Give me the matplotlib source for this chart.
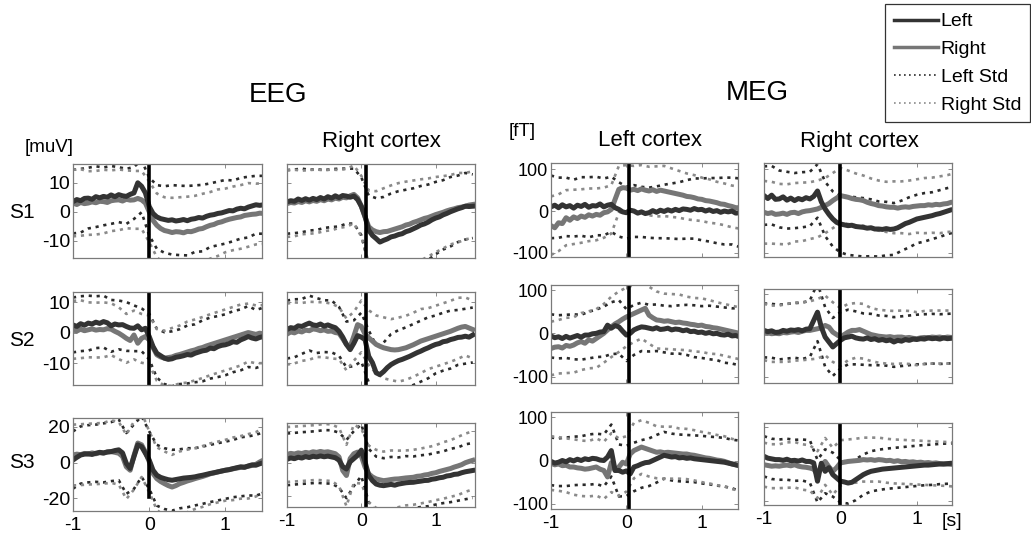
import numpy as np
import matplotlib
matplotlib.use("Agg")
import matplotlib.pyplot as plt
from matplotlib.lines import Line2D

plt.rcParams['font.family'] = ['Liberation Sans', 'DejaVu Sans']

# time axis of the averaged traces (s), std bands are sampled every second point
t = np.linspace(-1.0, 1.5, 51)
t_std = t[::2]

# ---------------- EEG, left cortex ----------------
eeg_lc_s1_left = [3.5, 4.2, 3.8, 4.6, 4.7, 4.3, 5.2, 4.8, 5.3, 5.0, 5.8, 5.2, 5.9, 5.5, 5.3, 6.0, 6.5,
                  10.0, 8.8, 6.5, 1.8, -0.6, -1.8, -2.4, -2.7, -3.0, -2.8, -3.2, -3.0, -2.7, -3.1, -2.6,
                  -2.4, -2.0, -2.2, -1.6, -1.2, -1.0, -0.6, -0.4, 0.0, 0.4, 0.3, 0.9, 1.2, 1.0, 1.6, 2.0,
                  2.4, 2.2, 2.4]
eeg_lc_s1_right = [3.0, 2.5, 3.2, 2.8, 3.0, 3.4, 3.1, 3.6, 3.5, 3.2, 3.8, 4.0, 4.1, 3.7, 4.3, 4.0, 4.1,
                   4.6, 4.1, 3.0, 0.0, -3.0, -4.7, -5.8, -6.5, -6.8, -7.2, -6.9, -7.0, -7.3, -6.8, -6.9,
                   -6.5, -6.0, -5.8, -5.2, -4.7, -4.4, -3.8, -3.5, -3.0, -2.6, -2.3, -2.0, -1.8, -1.3,
                   -1.1, -0.9, -0.8, -0.5, -0.6]
eeg_lc_s1_left_std = [11, 11, 10.5, 10.5, 10, 10, 9.5, 9.5, 9, 9, 10, 11, 11.5, 12, 12, 12, 11.5, 11.5,
                      11, 11, 11, 10.5, 10.5, 10.5, 10, 10]
eeg_lc_s1_right_std = [11.5, 11.5, 11, 11, 11, 10.5, 10.5, 10, 10, 10, 10.5, 11, 11.5, 12, 12, 12, 12,
                       12, 11.5, 11.5, 11, 11, 11, 11, 10.5, 10.5]

eeg_lc_s2_left = [2.5, 2.0, 2.9, 2.4, 3.1, 2.8, 3.4, 3.0, 3.6, 3.2, 2.2, 2.8, 2.5, 2.6, 2.0, 1.5, 1.4,
                  2.2, 0.9, 1.4, -1.3, -4.6, -6.8, -7.6, -8.4, -8.8, -8.6, -8.1, -7.9, -7.6, -7.2, -7.4,
                  -6.8, -6.4, -6.0, -5.8, -5.1, -5.3, -4.6, -4.2, -4.0, -3.6, -3.0, -3.2, -2.4, -1.9,
                  -1.3, -1.8, -2.1, -1.6, -1.3]
eeg_lc_s2_right = [0.9, 0.5, 1.1, 0.6, 0.9, 1.2, 0.8, 1.0, 0.9, 1.3, 1.1, 0.4, -0.2, -1.0, -1.9, -2.6,
                   -0.8, -3.5, -1.9, -1.3, -2.4, -4.9, -7.3, -8.0, -8.4, -8.2, -8.0, -7.5, -7.2, -6.8,
                   -6.4, -6.0, -5.7, -5.2, -4.9, -4.4, -4.0, -3.6, -3.2, -2.8, -2.4, -2.0, -1.6, -1.2,
                   -0.8, -0.4, 0.0, -0.3, -0.6, -0.2, -0.5]
eeg_lc_s2_left_std = [9, 9, 9, 8.5, 8.5, 8.5, 8, 8, 7.5, 7, 7.5, 8, 8.5, 9, 9, 9.5, 9.5, 10, 10, 10, 10,
                      10, 10, 10, 9.5, 9.5]
eeg_lc_s2_right_std = [9.5, 9.5, 9, 9, 9, 8.5, 8.5, 8, 8, 8, 8, 8.5, 9, 9.5, 9.5, 10, 10, 10, 10, 10, 10,
                       10, 10, 9.5, 9.5, 9.5]

eeg_lc_s3_left = [1.5, 3.0, 4.3, 4.8, 5.0, 4.6, 5.3, 5.8, 5.5, 6.0, 6.2, 6.8, 7.2, 5.5, -0.4, -3.2, 3.4,
                  10.0, 9.0, 5.3, 1.5, -4.2, -7.0, -8.2, -8.9, -9.5, -9.8, -9.4, -9.0, -8.6, -8.4, -8.2,
                  -7.9, -7.4, -7.0, -6.5, -6.0, -5.6, -5.1, -4.7, -4.2, -3.9, -3.3, -2.8, -2.3, -2.6,
                  -1.8, -1.2, -1.4, -0.6, 0.0]
eeg_lc_s3_right = [4.3, 4.8, 4.5, 5.2, 4.8, 5.5, 5.0, 5.6, 5.3, 6.0, 6.2, 5.8, 5.3, 3.5, -2.3, -4.2, 4.0,
                   11.0, 10.0, 6.0, 0.6, -6.0, -8.9, -10.5, -11.7, -12.8, -13.6, -12.8, -11.7, -11.0,
                   -10.2, -9.6, -8.9, -8.3, -7.7, -7.0, -6.2, -5.7, -5.2, -4.6, -4.2, -3.8, -3.4, -3.0,
                   -2.6, -2.4, -2.0, -1.5, -0.9, 0.4, 1.5]
eeg_lc_s3_left_std = [16, 16, 16, 16, 16.5, 16.5, 17, 17, 18, 17, 16, 17, 17, 17, 16.5, 16.5, 16, 16,
                      16, 16, 16, 16, 16.5, 16.5, 17, 17]
eeg_lc_s3_right_std = [17, 17, 17, 17, 17, 17.5, 17.5, 18, 19, 18, 17, 17.5, 18, 18, 18, 17.5, 17, 17,
                       17, 17, 17, 17.5, 17.5, 18, 18, 18]

# ---------------- EEG, right cortex ----------------
eeg_rc_s1_left = [3.4, 3.8, 3.6, 4.4, 3.9, 4.5, 4.0, 4.6, 4.2, 4.9, 4.4, 5.2, 4.7, 5.5, 4.9, 5.6, 5.4,
                  5.0, 5.4, 4.2, 1.9, -1.6, -6.4, -8.2, -9.3, -10.5, -9.9, -9.4, -8.7, -8.4, -7.9, -7.6,
                  -6.9, -6.5, -5.9, -5.3, -4.6, -4.2, -3.6, -2.8, -2.2, -1.8, -1.1, -0.6, 0.0, 0.5, 1.0,
                  1.4, 1.9, 1.8, 1.9]
eeg_rc_s1_right = [2.8, 3.2, 3.0, 3.5, 3.2, 3.8, 3.4, 3.9, 3.6, 4.2, 3.8, 4.4, 4.1, 4.7, 4.4, 5.0, 4.8,
                   5.5, 6.0, 4.8, 1.9, -1.8, -5.2, -6.3, -6.9, -7.2, -6.9, -6.8, -6.4, -6.0, -5.6, -5.2,
                   -4.6, -4.3, -3.7, -3.3, -2.8, -2.3, -2.0, -1.5, -1.0, -0.6, -0.2, 0.3, 0.7, 1.0, 1.4,
                   1.6, 1.9, 2.3, 2.5]
eeg_rc_s1_left_std = [11, 11, 11, 10.5, 10.5, 10, 10, 10, 9.5, 9.5, 10, 12, 14, 15, 15, 15, 14.5, 14,
                      13.5, 13, 12.5, 12, 12, 11.5, 11.5, 11]
eeg_rc_s1_right_std = [11.5, 11.5, 11, 11, 11, 10.5, 10.5, 10, 10, 10, 10.5, 12.5, 14, 15, 15.5, 15.5,
                       15, 14.5, 14, 13.5, 13, 12.5, 12, 12, 11.5, 11.5]

eeg_rc_s2_left = [1.0, 1.6, 1.4, 2.2, 2.0, 2.6, 3.1, 2.5, 2.3, 2.8, 2.1, 2.5, 2.0, 1.6, 0.4, -1.5, -3.9,
                  -5.6, -3.5, -1.0, -1.5, -2.3, -7.8, -9.9, -13.2, -13.8, -12.8, -11.5, -10.5, -9.8,
                  -9.2, -8.8, -8.3, -7.8, -7.2, -6.6, -6.1, -5.5, -5.0, -4.4, -3.9, -3.6, -3.0, -2.8,
                  -2.3, -2.0, -1.6, -1.5, -1.2, -1.5, -0.8]
eeg_rc_s2_right = [-0.5, 0.2, -0.1, 0.5, 0.2, 0.8, 0.6, 1.2, 1.0, 0.6, 0.9, 0.4, 0.5, 0.0, -0.2, -2.0,
                   -3.9, -4.6, -1.2, 2.6, 2.0, -0.5, -1.7, -2.8, -3.9, -4.5, -5.0, -5.3, -5.6, -5.7, -5.6,
                   -5.3, -5.0, -4.5, -4.0, -3.4, -2.8, -2.4, -2.0, -1.6, -1.2, -0.8, -0.4, 0.0, 0.4, 0.9,
                   1.4, 1.8, 2.0, 1.5, 1.0]
eeg_rc_s2_left_std = [9.5, 9.5, 9, 9, 9, 8.5, 8.5, 8, 7.5, 7.5, 8, 8.5, 9, 9.5, 10, 10, 10, 10, 10, 10,
                      9.5, 9.5, 9.5, 9, 9, 9]
eeg_rc_s2_right_std = [10, 10, 9.5, 9.5, 9, 9, 9, 8.5, 8.5, 8, 8.5, 9, 9.5, 10, 10, 10.5, 10.5, 10.5,
                       10.5, 10, 10, 10, 10, 10, 9.5, 9.5]

eeg_rc_s3_left = [2.5, 3.4, 2.9, 3.8, 3.3, 4.2, 3.6, 4.4, 4.0, 4.6, 4.1, 4.5, 4.0, 3.5, 2.0, -2.0, -3.5,
                  1.0, 3.0, 5.0, 8.2, 1.0, -7.5, -10.7, -12.8, -13.5, -13.8, -13.4, -13.0, -13.5, -12.8,
                  -12.4, -12.0, -11.8, -11.7, -11.3, -11.0, -10.6, -10.5, -9.8, -9.5, -8.9, -8.6, -7.8,
                  -7.5, -6.8, -6.6, -5.8, -5.2, -4.8, -4.4]
eeg_rc_s3_right = [5.5, 6.2, 5.8, 6.5, 6.1, 6.8, 6.4, 7.2, 6.8, 7.4, 6.9, 7.2, 6.6, 6.0, 4.0, -4.4, -7.5,
                   3.0, 6.0, 7.0, 4.5, -2.3, -6.5, -8.4, -9.6, -10.2, -10.7, -10.4, -10.0, -9.7, -9.6,
                   -9.3, -9.0, -8.8, -8.6, -8.0, -7.8, -7.2, -6.9, -6.2, -5.8, -5.0, -4.4, -3.8, -3.2,
                   -2.3, -1.6, -0.8, 0.4, 1.2, 1.9]
eeg_rc_s3_left_std = [16, 16, 16, 16, 16, 16.5, 16.5, 17, 18, 17, 16, 16.5, 17, 17, 17, 16.5, 16.5, 16,
                      16, 16, 16, 16, 16.5, 16.5, 17, 17]
eeg_rc_s3_right_std = [17, 17, 17, 17, 17, 17.5, 17.5, 18, 19, 18, 17, 17.5, 18, 18, 18, 17.5, 17, 17,
                       17, 17, 17, 17.5, 17.5, 18, 18, 18]

# ---------------- MEG, left cortex ----------------
meg_lc_s1_left = [10, 14, 8, 15, 10, 13, 7, 14, 11, 16, 9, 13, 12, 17, 10, 14, 16, 8, 4, -2, -4, 2, 0,
                  -5, -2, -6, -4, 1, -3, 2, -1, 3, 0, 4, 1, 5, 4, 2, 6, 3, 4, 0, 3, -1, 1, -3, 0, -2, 0,
                  -5, -4]
meg_lc_s1_right = [-35, -40, -28, -30, -16, -22, -14, -18, -12, -15, -9, -12, -8, -10, -4, -2, 4, 28,
                   52, 56, 55, 50, 52, 49, 53, 50, 48, 51, 47, 50, 48, 46, 44, 42, 40, 38, 35, 34, 32,
                   29, 28, 25, 24, 22, 20, 17, 16, 13, 11, 8, 8]
meg_lc_s1_left_std = [75, 72, 70, 68, 70, 72, 70, 68, 66, 65, 62, 62, 60, 60, 62, 64, 66, 68, 70, 72,
                      74, 76, 78, 80, 80, 82]
meg_lc_s1_right_std = [70, 68, 66, 65, 64, 63, 62, 60, 58, 56, 55, 56, 57, 58, 60, 60, 58, 56, 55, 54,
                       52, 52, 50, 50, 50, 50]

meg_lc_s2_left = [-6, -10, -8, -12, -7, -11, -8, -5, -9, -4, -4, -1, 0, 3, 4, 19, 12, 18, 15, 5, -4, 0,
                  8, 12, 15, 14, 12, 10, 13, 9, 10, 12, 8, 10, 9, 6, 8, 4, 5, 2, 3, 0, 2, -1, 0, -3,
                  -4, -2, -6, -5, -8]
meg_lc_s2_right = [-35, -32, -31, -34, -28, -30, -27, -22, -19, -23, -15, -18, -12, -6, 0, 8, 15, 22,
                   27, 33, 38, 42, 46, 50, 54, 58, 42, 36, 31, 30, 28, 29, 27, 25, 26, 24, 23, 21, 20,
                   18, 19, 16, 15, 13, 12, 10, 8, 6, 4, 2, 0]
meg_lc_s2_left_std = [50, 50, 50, 52, 52, 54, 55, 58, 60, 62, 60, 58, 56, 54, 54, 54, 55, 56, 58, 60,
                      60, 62, 62, 64, 64, 66]
meg_lc_s2_right_std = [62, 62, 64, 64, 66, 66, 68, 68, 70, 70, 68, 66, 66, 66, 66, 64, 64, 64, 62, 62,
                       62, 62, 60, 60, 60, 60]

meg_lc_s3_left = [-2, -6, -4, 0, -3, 2, -1, 3, 0, 4, 2, 5, 4, 1, 0, 8, 23, -23, -23, -27, -24, -31,
                  -15, -12, -8, -5, -4, 0, 4, 8, 12, 10, 8, 9, 6, 7, 5, 6, 4, 3, 2, 1, 0, -1, -2, -3,
                  -4, -6, -8, -10, -12]
meg_lc_s3_right = [-6, -10, -8, -12, -11, -15, -15, -17, -18, -20, -19, -17, -15, -20, -23, -38, -5,
                   -23, -15, -4, -8, 15, 23, 27, 31, 28, 25, 22, 19, 20, 18, 19, 18, 17, 16, 15, 15,
                   13, 12, 10, 8, 6, 5, 3, 1, 0, -2, -5, -8, -10, -12]
meg_lc_s3_left_std = [55, 55, 56, 56, 56, 58, 58, 60, 60, 60, 58, 56, 55, 55, 55, 54, 54, 54, 54, 54,
                      55, 55, 56, 56, 56, 58]
meg_lc_s3_right_std = [62, 62, 62, 64, 64, 64, 66, 66, 68, 66, 64, 64, 62, 62, 60, 60, 60, 58, 58, 58,
                       58, 58, 58, 58, 58, 58]

# ---------------- MEG, right cortex ----------------
meg_rc_s1_left = [37, 30, 38, 28, 29, 34, 26, 31, 25, 30, 27, 32, 29, 35, 48, 22, 5, -8, -19, -27, -31,
                  -33, -35, -34, -37, -38, -39, -41, -40, -43, -43, -44, -42, -44, -43, -40, -35, -30,
                  -27, -23, -19, -17, -15, -13, -11, -8, -6, -3, 0, 3, 4]
meg_rc_s1_right = [-3, -6, -4, -8, -7, -5, -8, -4, -3, -6, -2, 0, 1, 3, 5, 9, 13, 18, 25, 31, 37, 35,
                   33, 30, 28, 27, 25, 21, 18, 16, 13, 12, 10, 9, 9, 7, 9, 10, 9, 11, 12, 13, 13, 15,
                   14, 16, 15, 17, 18, 21, 21]
meg_rc_s1_left_std = [70, 70, 68, 68, 66, 66, 65, 64, 65, 66, 68, 70, 70, 70, 68, 66, 64, 62, 60, 60,
                      58, 58, 56, 56, 55, 55]
meg_rc_s1_right_std = [75, 74, 72, 72, 70, 70, 68, 68, 66, 66, 66, 64, 62, 60, 60, 60, 60, 62, 62, 64,
                       64, 66, 66, 68, 68, 70]

meg_rc_s2_left = [12, 9, 11, 7, 8, 12, 10, 13, 12, 14, 11, 15, 16, 36, 56, 20, -4, -16, -28, -20, -12,
                  -6, -4, -2, -6, -8, -9, -6, -10, -8, -12, -10, -13, -11, -16, -12, -14, -10, -12, -9,
                  -10, -8, -9, -6, -8, -7, -9, -6, -8, -7, -7]
meg_rc_s2_right = [8, 6, 4, 5, 4, 7, 6, 8, 9, 7, 10, 12, 12, 14, 16, 18, 24, 20, 8, 2, -4, 2, 8, 12, 12,
                   14, 10, 6, 2, 0, -2, -3, -4, -3, -5, -4, -4, -6, -5, -7, -8, -6, -5, -6, -4, -5, -4,
                   -6, -4, -5, -4]
meg_rc_s2_left_std = [65, 65, 66, 66, 66, 68, 68, 70, 72, 70, 68, 66, 64, 62, 62, 60, 60, 60, 60, 60,
                      60, 60, 60, 60, 60, 60]
meg_rc_s2_right_std = [68, 68, 68, 70, 70, 70, 70, 72, 72, 72, 70, 68, 66, 66, 64, 64, 64, 64, 64, 64,
                       64, 64, 64, 64, 64, 64]

meg_rc_s3_left = [21, 16, 14, 12, 12, 10, 13, 9, 10, 8, 11, 7, 7, 3, -47, 2, -20, -10, -29, -38, -47,
                  -49, -52, -50, -43, -36, -29, -24, -20, -18, -16, -14, -13, -12, -11, -10, -9, -8,
                  -7, -6, -5, -4, -3, -3, -2, -1, 0, 0, 1, 2, 2]
meg_rc_s3_right = [-2, -4, -6, -5, -6, -4, -3, -5, -2, -6, -8, -9, -11, -14, -29, -5, 7, -8, -20, -10,
                   3, 5, 7, 8, 9, 10, 12, 11, 12, 10, 12, 11, 9, 10, 7, 9, 6, 7, 5, 6, 4, 5, 3, 4, 2, 3,
                   1, 0, 0, -1, -2]
meg_rc_s3_left_std = [55, 55, 55, 56, 56, 56, 58, 58, 60, 60, 58, 56, 56, 55, 55, 55, 55, 55, 55, 55,
                      55, 55, 55, 55, 55, 55]
meg_rc_s3_right_std = [60, 60, 60, 62, 62, 62, 62, 64, 64, 64, 62, 60, 60, 60, 60, 60, 60, 60, 60, 60,
                       60, 60, 60, 60, 60, 60]

subjects = ["S1", "S2", "S3"]
column_titles = ["", "Right cortex", "Left cortex", "Right cortex"]
eeg_yticks = [[-10, 0, 10], [-10, 0, 10], [-20, 0, 20]]
meg_yticks = [-100, 0, 100]
xticks = [-1, 0, 1]

# panel grid: rows = subjects, columns = EEG left, EEG right, MEG left, MEG right
traces = [
    [(eeg_lc_s1_left, eeg_lc_s1_right, eeg_lc_s1_left_std, eeg_lc_s1_right_std),
     (eeg_rc_s1_left, eeg_rc_s1_right, eeg_rc_s1_left_std, eeg_rc_s1_right_std),
     (meg_lc_s1_left, meg_lc_s1_right, meg_lc_s1_left_std, meg_lc_s1_right_std),
     (meg_rc_s1_left, meg_rc_s1_right, meg_rc_s1_left_std, meg_rc_s1_right_std)],
    [(eeg_lc_s2_left, eeg_lc_s2_right, eeg_lc_s2_left_std, eeg_lc_s2_right_std),
     (eeg_rc_s2_left, eeg_rc_s2_right, eeg_rc_s2_left_std, eeg_rc_s2_right_std),
     (meg_lc_s2_left, meg_lc_s2_right, meg_lc_s2_left_std, meg_lc_s2_right_std),
     (meg_rc_s2_left, meg_rc_s2_right, meg_rc_s2_left_std, meg_rc_s2_right_std)],
    [(eeg_lc_s3_left, eeg_lc_s3_right, eeg_lc_s3_left_std, eeg_lc_s3_right_std),
     (eeg_rc_s3_left, eeg_rc_s3_right, eeg_rc_s3_left_std, eeg_rc_s3_right_std),
     (meg_lc_s3_left, meg_lc_s3_right, meg_lc_s3_left_std, meg_lc_s3_right_std),
     (meg_rc_s3_left, meg_rc_s3_right, meg_rc_s3_left_std, meg_rc_s3_right_std)],
]

# pixel boxes (left, top, right, bottom) of each panel in the 1031x535 canvas
W, H = 1031, 535
boxes = [
    [(73, 164, 262, 258), (287, 164, 475, 258), (551, 163, 738, 257), (764, 163, 952, 257)],
    [(73, 292, 262, 385), (287, 292, 475, 385), (551, 285, 738, 383), (764, 289, 952, 383)],
    [(73, 418, 262, 511), (287, 423, 475, 507), (551, 412, 738, 509), (764, 423, 952, 505)],
]
xlims = [(-0.98, 1.48), (-0.91, 1.53), (-0.92, 1.48), (-1.0, 1.46)]
onset = [0.0, 0.06, 0.04, 0.0]
eeg_ylims = [(-16, 16.5), (-17.2, 13.3), (-27, 25)]
meg_ylims = [(-110, 115), (-115, 112), (-112, 112)]

C_LEFT = "#333333"
C_RIGHT = "#767676"
C_LSTD = "#2a2a2a"
C_RSTD = "#8a8a8a"
FRAME = "#7a7a7a"
STD_LS = (0, (1.2, 1.8))

fig = plt.figure(figsize=(W / 100, H / 100), dpi=100)

for r in range(3):
    for c in range(4):
        l, tp, rt, bt = boxes[r][c]
        ax = fig.add_axes([l / W, 1 - bt / H, (rt - l) / W, (bt - tp) / H])
        left, right, lstd, rstd = [np.asarray(a, dtype=float) for a in traces[r][c]]

        ax.plot(t_std, left[::2] + lstd, ls=STD_LS, lw=1.9, color=C_LSTD)
        ax.plot(t_std, left[::2] - lstd, ls=STD_LS, lw=1.9, color=C_LSTD)
        ax.plot(t_std, right[::2] + rstd, ls=STD_LS, lw=1.9, color=C_RSTD)
        ax.plot(t_std, right[::2] - rstd, ls=STD_LS, lw=1.9, color=C_RSTD)
        ax.plot(t, right, color=C_RIGHT, lw=3.6, solid_joinstyle="round")
        ax.plot(t, left, color=C_LEFT, lw=3.6, solid_joinstyle="round")

        ylim = eeg_ylims[r] if c < 2 else meg_ylims[r]
        ax.set_xlim(*xlims[c])
        ax.set_ylim(*ylim)
        if r == 2 and c == 0:
            ax.plot([onset[c], onset[c]], [15, -19], color="black", lw=2.6)
        else:
            ax.axvline(onset[c], color="black", lw=2.6)

        ax.set_xticks(xticks)
        ax.set_yticks(eeg_yticks[r] if c < 2 else meg_yticks)
        ax.tick_params(direction="in", length=3, width=0.6, color=FRAME,
                       top=True, right=True, pad=2)
        if r == 2:
            ax.set_xticklabels(["-1", "0", "1"], fontsize=14)
            ax.tick_params(axis="x", pad=4)
        else:
            ax.set_xticklabels([])
        if c == 0:
            ax.set_yticklabels([str(v) for v in eeg_yticks[r]], fontsize=14)
        elif c == 2:
            ax.set_yticklabels(["-100", "0", "100"], fontsize=13)
        else:
            ax.set_yticklabels([])
        for sp in ax.spines.values():
            sp.set_color(FRAME)
            sp.set_linewidth(0.9)

# texts
fig.text(278 / W, 1 - 95 / H, "EEG", fontsize=20, ha="center", va="center")
fig.text(757 / W, 1 - 93 / H, "MEG", fontsize=20, ha="center", va="center")
fig.text(49 / W, 1 - 147 / H, "[muV]", fontsize=13.5, ha="center", va="center")
fig.text(522 / W, 1 - 131 / H, "[fT]", fontsize=13.5, ha="center", va="center")
title_x = [None, 381, 650, 859]
for c in (1, 2, 3):
    fig.text(title_x[c] / W, 1 - 141 / H, column_titles[c], fontsize=16, ha="center", va="center")
row_y = [213, 341, 463]
for s, y in zip(subjects, row_y):
    fig.text(22 / W, 1 - y / H, s, fontsize=15, ha="center", va="center")
fig.text(952 / W, 1 - 521 / H, "[s]", fontsize=14, ha="center", va="center")

# legend
handles = [Line2D([], [], color=C_LEFT, lw=2.5),
           Line2D([], [], color=C_RIGHT, lw=2.5),
           Line2D([], [], color=C_LSTD, lw=1.2, ls=(0, (1, 2))),
           Line2D([], [], color=C_RSTD, lw=1.2, ls=(0, (1, 2)))]
leg = fig.legend(handles, ["Left", "Right", "Left Std", "Right Std"],
                 loc="upper right", bbox_to_anchor=(1030 / W, 1 - 4 / H),
                 fontsize=14, frameon=True, fancybox=False, framealpha=1,
                 handlelength=2.3, handletextpad=0.12, borderpad=0.45,
                 labelspacing=0.52, borderaxespad=0)
leg.get_frame().set_edgecolor("#333333")
leg.get_frame().set_linewidth(0.9)

fig.savefig("out.png", dpi=100)
